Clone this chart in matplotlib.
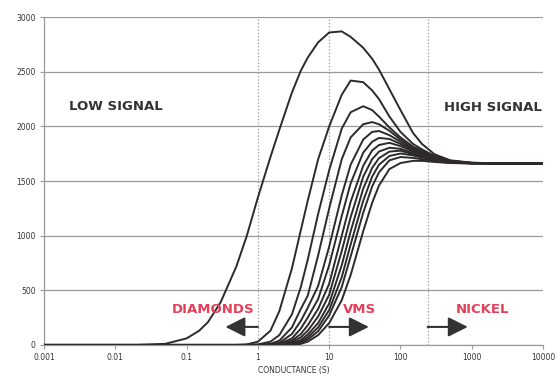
import matplotlib
matplotlib.use("Agg")
from matplotlib import pyplot

# conductance grid (S) shared by every response curve
conductance = [0.001, 0.01, 0.02, 0.05, 0.1, 0.15, 0.2, 0.3, 0.5, 0.7,
               1, 1.5, 2, 3, 4, 5, 7, 10, 15, 20,
               30, 40, 50, 70, 100, 150, 200, 300, 500, 1000,
               3000, 10000]

# responses, one list per curve
curve1 = [0, 0, 0, 10, 60, 130, 210, 390, 720, 1000,
          1350, 1720, 1970, 2310, 2510, 2630, 2770, 2860, 2870, 2820,
          2720, 2620, 2520, 2340, 2150, 1940, 1840, 1745, 1690, 1668,
          1661, 1660]
curve2 = [0, 0, 0, 0, 0, 0, 0, 0, 0, 5,
          30, 130, 310, 700, 1050, 1320, 1700, 2000, 2290, 2420,
          2405, 2330, 2250, 2090, 1950, 1840, 1790, 1730, 1685, 1667,
          1661, 1660]
curve3 = [0, 0, 0, 0, 0, 0, 0, 0, 0, 0,
          5, 30, 90, 280, 530, 780, 1200, 1600, 1980, 2130,
          2185, 2150, 2090, 1990, 1900, 1815, 1775, 1725, 1683, 1666,
          1661, 1660]
curve4 = [0, 0, 0, 0, 0, 0, 0, 0, 0, 0,
          0, 10, 40, 160, 330, 450, 820, 1250, 1700, 1900,
          2020, 2040, 2020, 1960, 1880, 1800, 1765, 1720, 1682, 1666,
          1661, 1660]
curve5 = [0, 0, 0, 0, 0, 0, 0, 0, 0, 0,
          0, 5, 20, 100, 220, 340, 540, 900, 1370, 1650,
          1880, 1950, 1958, 1920, 1860, 1790, 1755, 1715, 1680, 1665,
          1661, 1660]
curve6 = [0, 0, 0, 0, 0, 0, 0, 0, 0, 0,
          0, 0, 10, 60, 150, 250, 420, 730, 1180, 1480,
          1760, 1860, 1895, 1885, 1840, 1780, 1745, 1710, 1678, 1664,
          1661, 1660]
curve7 = [0, 0, 0, 0, 0, 0, 0, 0, 0, 0,
          0, 0, 5, 40, 100, 180, 330, 560, 1000, 1310,
          1640, 1780, 1830, 1850, 1820, 1770, 1738, 1705, 1676, 1664,
          1661, 1660]
curve8 = [0, 0, 0, 0, 0, 0, 0, 0, 0, 0,
          0, 0, 0, 25, 70, 130, 260, 460, 860, 1170,
          1540, 1700, 1770, 1805, 1795, 1755, 1730, 1700, 1674, 1663,
          1661, 1660]
curve9 = [0, 0, 0, 0, 0, 0, 0, 0, 0, 0,
          0, 0, 0, 15, 45, 95, 200, 380, 730, 1040,
          1430, 1620, 1710, 1770, 1778, 1745, 1722, 1695, 1672, 1663,
          1661, 1660]
curve10 = [0, 0, 0, 0, 0, 0, 0, 0, 0, 0,
           0, 0, 0, 10, 30, 70, 160, 320, 620, 920,
           1320, 1540, 1650, 1730, 1752, 1735, 1715, 1690, 1670, 1662,
           1661, 1660]
curve11 = [0, 0, 0, 0, 0, 0, 0, 0, 0, 0,
           0, 0, 0, 5, 20, 50, 125, 270, 530, 810,
           1210, 1450, 1580, 1690, 1720, 1712, 1700, 1682, 1667, 1662,
           1661, 1660]
curve12 = [0, 0, 0, 0, 0, 0, 0, 0, 0, 0,
           0, 0, 0, 0, 10, 30, 90, 200, 410, 640,
           1040, 1300, 1460, 1610, 1665, 1685, 1685, 1675, 1665, 1661,
           1660, 1660]
curves = [curve1, curve2, curve3, curve4, curve5, curve6,
          curve7, curve8, curve9, curve10, curve11, curve12]

xticks = [0.001, 0.01, 0.1, 1, 10, 100, 1000, 10000]
xtick_labels = ['0.001', '0.01', '0.1', '1', '10', '100', '1000', '10000']
yticks = [0, 500, 1000, 1500, 2000, 2500, 3000]

# region boundaries (dotted) and the arrows that point into each region
boundaries = [1, 10, 240]
regions = ['DIAMONDS', 'VMS', 'NICKEL']
arrow_from = [1, 10, 240]
arrow_to = [0.35, 36, 880]

fig = pyplot.figure(figsize=(5.57, 3.82), dpi=100)
ax = fig.add_axes([0.079, 0.097, 0.896, 0.858])

for yv in yticks:
    ax.axhline(yv, color='#9a9a9a', lw=0.9, zorder=1)
for b in boundaries:
    ax.axvline(b, color='#9a9a9a', lw=0.9, ls=':', zorder=1)

for c in curves:
    ax.plot(conductance, c, color='#2e2a2a', lw=1.4, zorder=3)

ax.set_xscale('log')
ax.set_xlim(0.001, 10000)
ax.set_ylim(0, 3000)
ax.set_xticks(xticks)
ax.set_xticklabels(xtick_labels)
ax.minorticks_off()
ax.set_yticks(yticks)
ax.tick_params(axis='both', labelsize=5.5, colors='#333333', length=3,
               width=0.8, color='#9a9a9a', pad=3)
for side in ['top', 'right']:
    ax.spines[side].set_visible(False)
for side in ['left', 'bottom']:
    ax.spines[side].set_color('#9a9a9a')
    ax.spines[side].set_linewidth(0.9)
ax.set_xlabel('CONDUCTANCE (S)', fontsize=5.5, color='#333333', labelpad=3)

ax.text(0.144, 0.726, 'LOW SIGNAL', transform=ax.transAxes, ha='center',
        va='center', fontsize=9.5, fontweight='bold', color='#333333')
ax.text(0.90, 0.723, 'HIGH SIGNAL', transform=ax.transAxes, ha='center',
        va='center', fontsize=9.5, fontweight='bold', color='#333333')

for name, xpos in zip(regions, [0.339, 0.633, 0.878]):
    ax.text(xpos, 0.107, name, transform=ax.transAxes, ha='center',
            va='center', fontsize=9.5, fontweight='bold', color='#e4405a')

for x0, x1 in zip(arrow_from, arrow_to):
    ax.annotate('', xy=(x1, 165), xytext=(x0, 165),
                arrowprops=dict(arrowstyle='-|>,head_length=0.6,head_width=0.3',
                                mutation_scale=20, color='#333333', lw=1.5,
                                shrinkA=0, shrinkB=0),
                zorder=4)

pyplot.savefig('out.png', dpi=100)
